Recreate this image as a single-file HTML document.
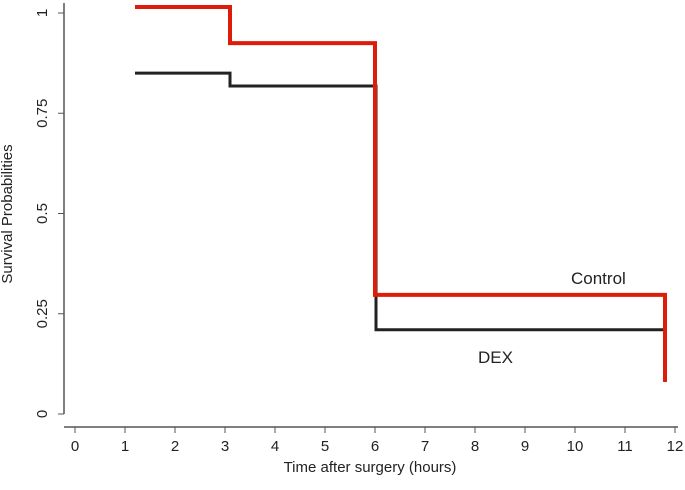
<!DOCTYPE html>
<html><head><meta charset="utf-8"><style>
body{margin:0;background:#fff;}
svg text{font-family:"Liberation Sans",Arial,sans-serif;fill:#222;}
</style></head><body>
<svg width="685" height="485" viewBox="0 0 685 485">
<g id="axes"></g>
<g id="series"></g>
<text x="12" y="214" font-size="15" text-anchor="middle" transform="rotate(-90 12 214)">Survival Probabilities</text>
<text x="370" y="472" font-size="15" text-anchor="middle">Time after surgery (hours)</text>
<text x="571" y="284" font-size="17">Control</text>
<text x="478" y="363" font-size="17">DEX</text>
</svg>
<script>
const xTicks=[0,1,2,3,4,5,6,7,8,9,10,11,12];
const yTicks=[0,0.25,0.5,0.75,1];
const yTickLabels=["0","0.25","0.5","0.75","1"];
const controlTimes=[1.2,3.1,6.0,11.8,11.8];
const controlValues=[1.015,0.925,0.297,0.297,0.08];
const dexTimes=[1.2,3.1,6.02,11.8,11.8];
const dexValues=[0.85,0.818,0.21,0.21,0.08];
const X=h=>75+50*h, Y=v=>414-401*v;
const NS="http://www.w3.org/2000/svg";
function mk(t,a,p){const e=document.createElementNS(NS,t);for(const k in a)e.setAttribute(k,a[k]);p.appendChild(e);return e;}
const ax=document.getElementById('axes');
let l=mk('line',{x1:64,y1:Y(1)-10,x2:64,y2:Y(0),stroke:'#555','stroke-width':1.5},ax);

l=mk('line',{x1:64,y1:427,x2:X(12)+3,y2:427,stroke:'#555','stroke-width':1.5},ax);

yTicks.forEach((v,i)=>{
 const t=mk('line',{x1:58,y1:Y(v),x2:64,y2:Y(v),stroke:'#555'},ax);
 
 const tx=mk('text',{x:47,y:Y(v),'font-size':15,'text-anchor':'middle',transform:`rotate(-90 47 ${Y(v)})`},ax);
 tx.textContent=yTickLabels[i];
 
});
xTicks.forEach(h=>{
 const t=mk('line',{x1:X(h),y1:427,x2:X(h),y2:433,stroke:'#555'},ax);
 
 const tx=mk('text',{x:X(h),y:451,'font-size':15,'text-anchor':'middle'},ax);
 tx.textContent=h;
 
});
function step(ts,vs,color,w){
 let d=`M${X(ts[0])},${Y(vs[0])}`;
 for(let i=1;i<ts.length;i++){d+=` H${X(ts[i])} V${Y(vs[i])}`;}
 return mk('path',{d,fill:'none',stroke:color,'stroke-width':w},document.getElementById('series'));
}
const pd=step(dexTimes,dexValues,'#222',3);

const pc=step(controlTimes,controlValues,'#dd1c0a',4);

</script>
</body></html>
